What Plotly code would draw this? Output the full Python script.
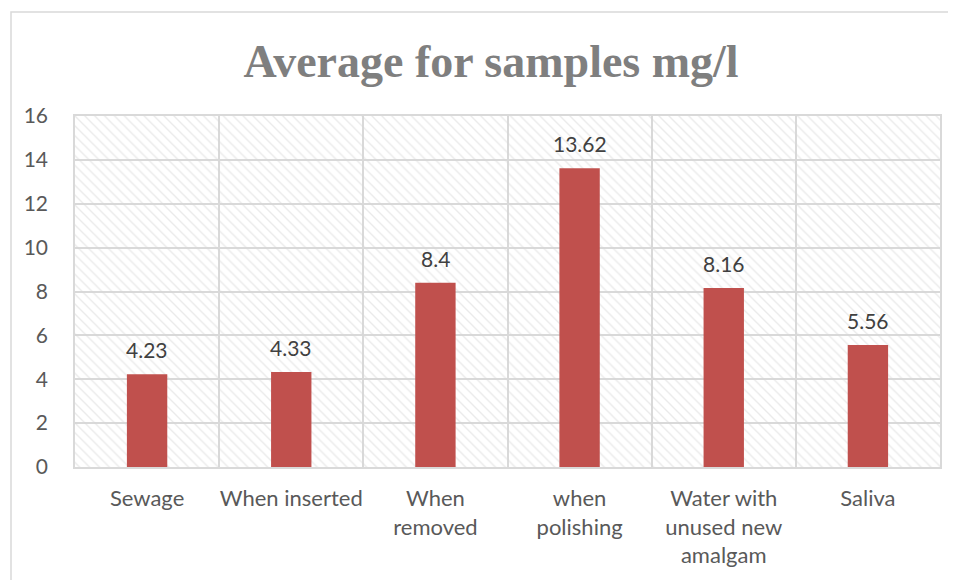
import plotly.graph_objects as go

categories = ["Sewage", "When inserted", "When<br>removed", "when<br>polishing",
              "Water with<br>unused new<br>amalgam", "Saliva"]
values = [4.23, 4.33, 8.4, 13.62, 8.16, 5.56]
labels = ["4.23", "4.33", "8.4", "13.62", "8.16", "5.56"]
y_ticks = [0, 2, 4, 6, 8, 10, 12, 14, 16]
y_max = 16
title_text = "Average for samples mg/l"

W, H = 948, 572
L, R, T, B = 67, 16, 108, 113
pw, ph = W - L - R, H - T - B

fig = go.Figure()

# hatched plot-area background
fig.add_trace(go.Bar(
    x=categories, y=[y_max] * len(categories), width=1,
    marker=dict(color="rgba(0,0,0,0)", line=dict(width=0),
                pattern=dict(shape="\\", fgcolor="#d6d6d6", bgcolor="rgba(0,0,0,0)",
                             size=7, solidity=0.2, fillmode="overlay")),
    hoverinfo="skip", showlegend=False,
))

fig.add_trace(go.Bar(
    x=categories, y=values, width=0.28,
    marker=dict(color="#C0504D", line=dict(width=0)),
    showlegend=False,
))

for c, v, t in zip(categories, values, labels):
    fig.add_annotation(x=c, y=v, text=t, showarrow=False, yanchor="bottom", yshift=10,
                       font=dict(family="Lato, Open Sans, sans-serif", size=21, color="#404040"))

fig.update_layout(
    width=W, height=H,
    margin=dict(l=L, r=R, t=T, b=B),
    paper_bgcolor="white", plot_bgcolor="white",
    barmode="overlay",
    title=dict(text="<b>" + title_text + "</b>", x=483 / W, xanchor="center", y=1 - 53 / H, yanchor="middle",
               font=dict(family="Liberation Serif, serif", size=46, color="#7f7f7f")),
    xaxis=dict(type="category", tickson="boundaries", showgrid=True, gridcolor="#d9d9d9", gridwidth=1.5,
               ticks="", showline=True, linecolor="#d9d9d9", linewidth=1.5, mirror=True,
               tickangle=0, automargin=False,
               tickfont=dict(family="Lato, Open Sans, sans-serif", size=22, color="#595959"),
               ticklabelstandoff=11),
    yaxis=dict(range=[0, y_max], tickvals=y_ticks, showgrid=True, gridcolor="#d9d9d9", gridwidth=1.5,
               zeroline=False, showline=True, linecolor="#d9d9d9", linewidth=1.5, mirror=True,
               automargin=False,
               tickfont=dict(family="Lato, Open Sans, sans-serif", size=21, color="#595959"),
               ticklabelstandoff=21),
    font=dict(family="Lato, Open Sans, sans-serif"),
)

# outer chart border
fig.add_shape(type="rect", xref="paper", yref="paper",
              x0=(3 - L) / pw, x1=1.2, y0=-0.5, y1=1 + (T - 4) / ph,
              line=dict(color="#d9d9d9", width=1.5), fillcolor="rgba(0,0,0,0)", layer="below")

fig.write_html("out.html")
